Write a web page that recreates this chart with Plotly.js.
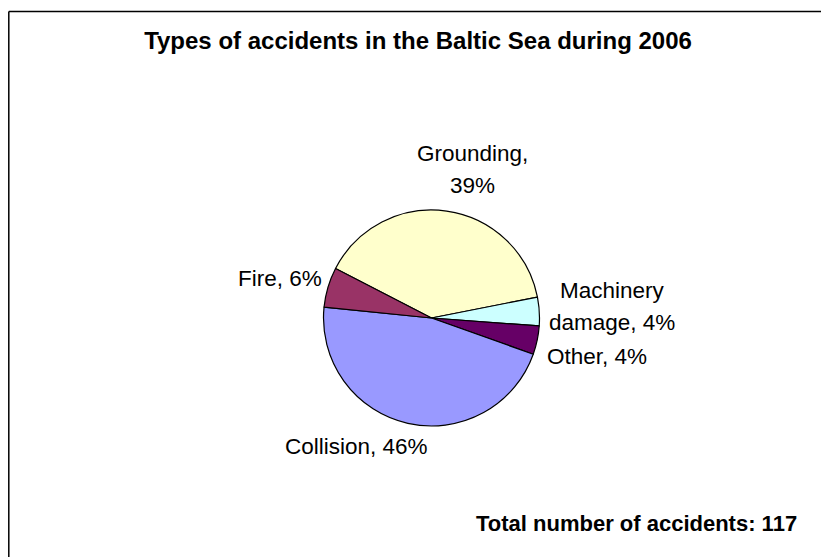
<!DOCTYPE html>
<html>
<head>
<meta charset="utf-8">
<script src="https://cdn.plot.ly/plotly-3.0.1.min.js"></script>
<style>
  html, body { margin: 0; padding: 0; background: #ffffff; }
  #chart { width: 821px; height: 557px; }
</style>
</head>
<body>
<div id="chart"></div>
<script>
// ---- Data ----
const categories = ["Grounding", "Machinery damage", "Other", "Collision", "Fire"];
const accidentCounts = [46, 5, 5, 54, 7];
const sliceColors = ["#FFFFCC", "#CCFFFF", "#660066", "#9999FF", "#993366"];
const chartTitle = "Types of accidents in the Baltic Sea during 2006";
const totalLabel = "Total number of accidents:";

// ---- Layout helpers ----
const W = 821, H = 557;
const px = p => p / W;
const py = p => 1 - p / H;

const total = accidentCounts.reduce((a, b) => a + b, 0);

// label placement (pixel coordinates of first line), line break after word index
const labelPlacement = [
  { x: 472, y: 153, anchor: "center", breakAfter: 1 },
  { x: 612, y: 290, anchor: "center", breakAfter: 1 },
  { x: 545, y: 356, anchor: "left", breakAfter: null },
  { x: 356.5, y: 446, anchor: "center", breakAfter: null },
  { x: 324, y: 278, anchor: "right", breakAfter: null }
];
const linePitch = 32.5;
const labelFont = { family: "Liberation Sans, Arial, sans-serif", size: 22.5, color: "#000000" };

const annotations = [];
categories.forEach((cat, i) => {
  const pct = Math.round(accidentCounts[i] / total * 100);
  const words = (cat + ", " + pct + "%").split(" ");
  const p = labelPlacement[i];
  let lines;
  if (p.breakAfter) {
    lines = [words.slice(0, p.breakAfter).join(" "), words.slice(p.breakAfter).join(" ")];
  } else {
    lines = [words.join(" ")];
  }
  lines.forEach((ln, j) => {
    annotations.push({
      text: ln,
      xref: "paper", yref: "paper",
      x: px(p.x), y: py(p.y + j * linePitch),
      xanchor: p.anchor, yanchor: "middle",
      showarrow: false,
      font: labelFont
    });
  });
});

annotations.push({
  text: "<b>" + totalLabel + " " + total + "</b>",
  xref: "paper", yref: "paper",
  x: px(799), y: py(523.5),
  xanchor: "right", yanchor: "middle",
  showarrow: false,
  font: { family: "Liberation Sans, Arial, sans-serif", size: 22, color: "#000000" }
});

// pie geometry
const cx = 431.5, cy = 318, r = 108;

const trace = {
  type: "pie",
  labels: categories,
  values: accidentCounts,
  sort: false,
  direction: "clockwise",
  rotation: 297.3,
  textinfo: "none",
  hoverinfo: "skip",
  marker: { colors: sliceColors, line: { color: "#000000", width: 1.2 } },
  domain: { x: [px(cx - r), px(cx + r)], y: [py(cy + r), py(cy - r)] }
};

const layout = {
  width: W, height: H,
  margin: { l: 0, r: 0, t: 0, b: 0, pad: 0 },
  paper_bgcolor: "#ffffff",
  plot_bgcolor: "#ffffff",
  showlegend: false,
  hovermode: false,
  title: {
    text: "<b>" + chartTitle + "</b>",
    x: px(418), y: py(40.5),
    xref: "paper", yref: "paper",
    xanchor: "center", yanchor: "middle",
    pad: { t: 0, b: 0, l: 0, r: 0 },
    font: { family: "Liberation Sans, Arial, sans-serif", size: 24, color: "#000000" }
  },
  annotations: annotations,
  shapes: [
    { type: "line", xref: "paper", yref: "paper", x0: px(8.8), x1: px(8.8), y0: py(11.5), y1: py(H + 5), line: { color: "#000000", width: 1.5 } },
    { type: "line", xref: "paper", yref: "paper", x0: px(8.8), x1: px(W + 5), y0: py(11.5), y1: py(11.5), line: { color: "#000000", width: 1.5 } }
  ]
};

Plotly.newPlot("chart", [trace], layout, { displayModeBar: false, staticPlot: true });
</script>
</body>
</html>
